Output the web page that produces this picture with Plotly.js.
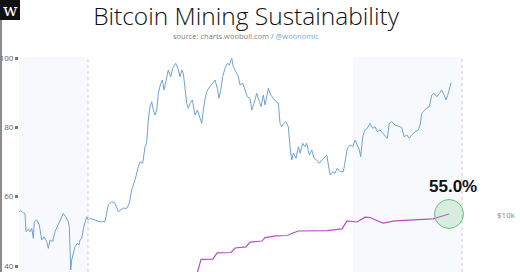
<!DOCTYPE html>
<html><head><meta charset="utf-8">
<script src="https://cdn.plot.ly/plotly-3.0.1.min.js"></script>
<style>html,body{margin:0;padding:0;background:#fff}#chart{width:520px;height:272px}</style>
</head><body><div id="chart"></div>
<script>
// time as decimal years
const priceYears = [2019.636,2019.651,2019.678,2019.696,2019.707,2019.731,2019.749,2019.767,2019.784,2019.794,2019.820,2019.847,2019.872,2019.897,2019.925,2019.942,2019.960,2019.988,2020.012,2020.037,2020.065,2020.100,2020.125,2020.153,2020.163,2020.178,2020.188,2020.205,2020.223,2020.247,2020.265,2020.276,2020.294,2020.311,2020.328,2020.346,2020.363,2020.381,2020.434,2020.487,2020.539,2020.574,2020.610,2020.645,2020.679,2020.732,2020.768,2020.795,2020.820,2020.855,2020.890,2020.908,2020.936,2020.961,2020.978,2020.995,2021.013,2021.031,2021.048,2021.066,2021.084,2021.101,2021.126,2021.143,2021.161,2021.189,2021.206,2021.231,2021.252,2021.284,2021.311,2021.329,2021.347,2021.364,2021.382,2021.400,2021.417,2021.435,2021.459,2021.487,2021.512,2021.540,2021.558,2021.575,2021.593,2021.617,2021.645,2021.674,2021.698,2021.722,2021.740,2021.758,2021.779,2021.803,2021.828,2021.849,2021.874,2021.891,2021.919,2021.944,2021.961,2021.990,2022.014,2022.038,2022.067,2022.085,2022.109,2022.137,2022.165,2022.183,2022.207,2022.225,2022.260,2022.285,2022.312,2022.341,2022.365,2022.383,2022.401,2022.425,2022.446,2022.470,2022.488,2022.506,2022.523,2022.551,2022.576,2022.594,2022.622,2022.646,2022.664,2022.692,2022.717,2022.741,2022.769,2022.797,2022.822,2022.846,2022.875,2022.892,2022.910,2022.938,2022.962,2022.986,2023.015,2023.050,2023.075,2023.092,2023.120,2023.149,2023.173,2023.197,2023.218,2023.233,2023.254,2023.278,2023.302,2023.331,2023.359,2023.384,2023.408,2023.436,2023.465,2023.489,2023.513,2023.534,2023.560,2023.594,2023.629,2023.665,2023.689,2023.718,2023.745,2023.770,2023.805,2023.840,2023.858,2023.876,2023.893,2023.921,2023.956,2023.981,2024.005,2024.034,2024.061,2024.086,2024.111,2024.132,2024.156,2024.184];
const priceUSD = [10420,10550,10290,10210,8130,8380,8130,8480,7490,9200,9400,8840,7340,7640,7190,6620,7340,7190,8130,8650,9400,10210,9790,9200,8650,5060,5730,6220,6750,7050,6900,7340,7490,8480,9200,9790,9400,9600,9400,9200,9200,11320,11790,11560,10420,10870,10870,11560,13630,15420,18180,19350,18970,23290,24290,32410,38210,40650,36680,34480,36680,45110,51060,53180,46990,54310,60190,55400,61470,65400,60720,55400,60190,57780,48950,39860,37460,39860,41520,34480,36680,33430,31120,36680,42410,46990,48950,51060,53180,47990,42410,46990,55400,61470,65400,64040,69580,62700,58940,55400,50000,51060,46990,43250,42410,36680,39860,45110,40650,38210,44170,39030,47990,44170,42410,40650,39860,31120,29840,31120,31740,29840,23290,19760,21470,20180,23290,21470,24290,23290,24290,21020,22360,20180,19760,18970,19760,20180,21020,18970,16410,17090,16760,17830,17090,17090,19760,22830,23790,23290,25310,23790,22360,20580,26360,28640,29250,31120,29250,29840,28050,28640,27490,26920,25840,31120,31740,30470,30090,29610,26360,26920,25840,26920,28050,28640,30470,35220,35920,37460,38210,44170,45110,43250,45110,46990,44170,41520,45110,51440];

const sustainYears = [2021.498,2021.551,2021.677,2021.720,2021.867,2021.909,2022.025,2022.067,2022.193,2022.225,2022.341,2022.458,2022.520,2022.573,2022.878,2023.036,2023.089,2023.194,2023.278,2023.331,2023.415,2023.468,2023.594,2023.995,2024.163];
const sustainPct = [36.8,41.9,42.0,43.8,43.9,45.2,45.5,46.9,47.2,48.2,48.7,48.8,49.5,50.1,50.2,50.7,53.0,52.7,54.1,54.0,53.0,52.4,53.0,53.6,55.0];

const halvingYears = [2020.360, 2024.300];
const shadedPeriods = [[2019.633, 2020.360], [2023.152, 2024.300]];
const leftTicks = [40, 60, 80, 100];
const rightTickVals = [10000];
const rightTickText = ['$10k'];

const lastI = sustainPct.length - 1;
const traces = [
  {x: priceYears, y: priceUSD, yaxis: 'y2', type: 'scatter', mode: 'lines',
   line: {color: '#70a3d2', width: 1}, hoverinfo: 'skip'},
  {x: sustainYears, y: sustainPct, type: 'scatter', mode: 'lines',
   line: {color: '#b54fc6', width: 1.2}, hoverinfo: 'skip'},
  {x: [sustainYears[lastI]], y: [sustainPct[lastI]], type: 'scatter', mode: 'markers',
   marker: {size: 29, color: 'rgba(140,210,155,0.3)', line: {color: '#6cbf82', width: 1}}, hoverinfo: 'skip'}
];

// paper helpers (plot area: x 19..496, y 57..272)
const W = 520, H = 272, L = 19, R = 496, T = 57, B = 272;
const px = v => (v - L) / (R - L);
const py = v => (B - v) / (B - T);

const shapes = [];
shadedPeriods.forEach(p => shapes.push({type: 'rect', xref: 'x', yref: 'paper', x0: p[0], x1: p[1], y0: 0, y1: 1,
  fillcolor: '#f7f9fd', line: {width: 0}, layer: 'below'}));
halvingYears.forEach(h => shapes.push({type: 'line', xref: 'x', yref: 'paper', x0: h, x1: h, y0: 0, y1: 1,
  line: {color: '#d8c6d2', width: 1, dash: 'dot'}, layer: 'below'}));
shapes.push({type: 'rect', xref: 'paper', yref: 'paper', x0: px(0), x1: px(20), y0: py(20), y1: py(0),
  fillcolor: '#111', line: {width: 0}});
shapes.push({type: 'line', xref: 'paper', yref: 'paper', x0: px(1), x1: px(1), y0: py(272), y1: py(20),
  line: {color: '#666', width: 1.5}});

const layout = {
  width: W, height: H,
  margin: {l: L, r: W - R, t: T, b: H - B, pad: 0},
  paper_bgcolor: '#fff', plot_bgcolor: 'rgba(0,0,0,0)',
  showlegend: false,
  title: {text: 'Bitcoin Mining Sustainability', x: 246 / W, xanchor: 'center', xref: 'container',
    y: 1 - 16.5 / H, yanchor: 'middle', yref: 'container',
    font: {family: 'Open Sans', size: 24.5, color: '#111', weight: 300}},
  xaxis: {range: [2019.633, 2024.658], showticklabels: false, showgrid: false, zeroline: false, showline: false, ticks: ''},
  yaxis: {range: [38.27, 100.29], tickvals: leftTicks, ticks: 'outside', ticklen: 3, tickwidth: 3, tickcolor: '#777',
    showgrid: false, zeroline: false, showline: false, tickfont: {family: 'Open Sans', size: 8, color: '#666'}},
  yaxis2: {type: 'log', range: [3.6935, 4.8495], overlaying: 'y', side: 'right', tickvals: rightTickVals, ticktext: rightTickText,
    ticks: '', showgrid: false, zeroline: false, showline: false, tickfont: {family: 'Open Sans', size: 8, color: '#888'}},
  shapes: shapes,
  annotations: [
    {xref: 'paper', yref: 'paper', x: px(246), y: py(36), xanchor: 'center', yanchor: 'middle', showarrow: false,
     text: 'source: charts.woobull.com / <span style="color:#7aa7d6">@woonomic</span>',
     font: {family: 'Open Sans', size: 7.5, color: '#808080'}},
    {xref: 'paper', yref: 'paper', x: px(10), y: py(10), xanchor: 'center', yanchor: 'middle', showarrow: false,
     text: 'w', font: {family: 'DejaVu Serif', size: 17, color: '#fff'}},
    {x: sustainYears[lastI], y: sustainPct[lastI], xanchor: 'center', yanchor: 'middle', showarrow: false,
     xshift: 4, yshift: 28, text: sustainPct[lastI].toFixed(1) + '%',
     font: {family: 'Liberation Sans', size: 17, color: '#111', weight: 700}}
  ]
};
Plotly.newPlot('chart', traces, layout, {staticPlot: true, displayModeBar: false});
</script></body></html>
